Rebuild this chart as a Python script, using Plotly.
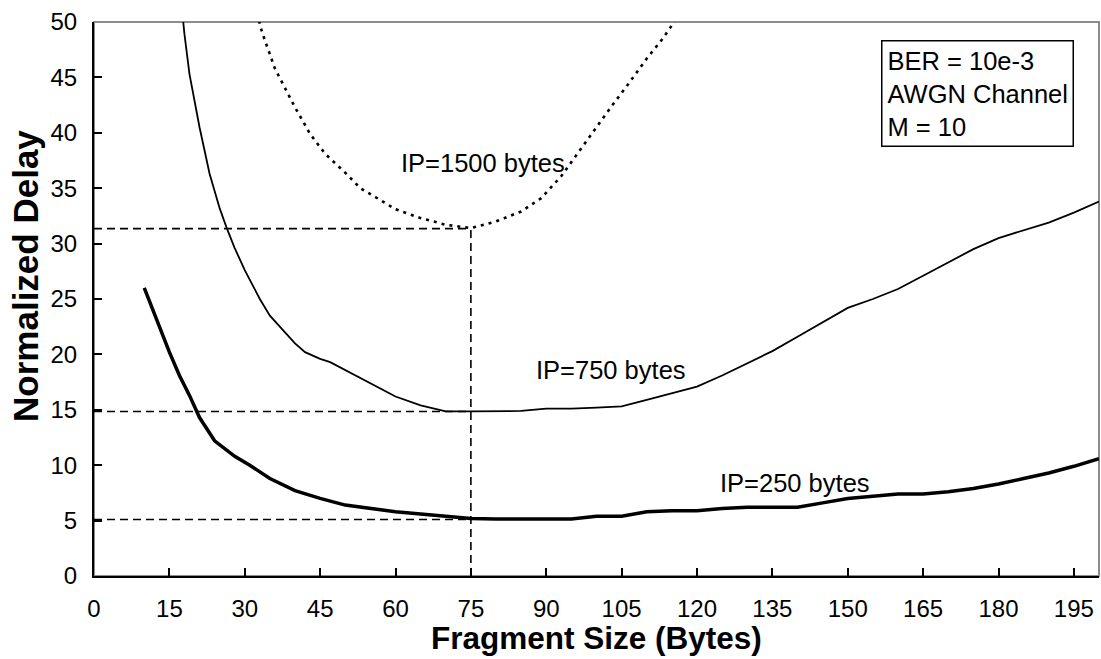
import plotly.graph_objects as go

# ---- data ----
x_250 = [10, 13, 15, 17, 19, 21, 24, 28, 31, 35, 40, 45, 50, 60, 70, 75, 80, 85, 90, 95,
         100, 105, 110, 115, 120, 125, 130, 135, 140, 145, 150, 155, 160, 165, 170, 175,
         180, 185, 190, 195, 200]
y_250 = [26.0, 22.5, 20.2, 18.1, 16.3, 14.3, 12.2, 10.8, 10.0, 8.8, 7.7, 7.0, 6.4, 5.8, 5.35,
         5.2, 5.15, 5.15, 5.15, 5.15, 5.4, 5.4, 5.8, 5.9, 5.9, 6.1, 6.2, 6.2, 6.2, 6.6, 7.0,
         7.2, 7.4, 7.4, 7.6, 7.9, 8.3, 8.8, 9.3, 9.9, 10.6]

x_750 = [17, 18, 19, 21, 23, 25, 26.5, 28, 30, 33, 35, 38, 40, 42, 45, 47, 50, 55, 60, 65,
         70, 75, 80, 85, 90, 95, 100, 105, 110, 115, 120, 125, 130, 135, 140, 145, 150,
         155, 160, 165, 170, 175, 180, 185, 190, 195, 200]
y_750 = [53.5, 48.9, 45.3, 40.5, 36.3, 33.2, 31.3, 29.6, 27.6, 25.0, 23.5, 22.0, 21.0, 20.2,
         19.6, 19.3, 18.6, 17.4, 16.2, 15.4, 14.85, 14.85, 14.85, 14.9, 15.1, 15.1, 15.2,
         15.3, 15.9, 16.5, 17.1, 18.1, 19.2, 20.3, 21.6, 22.9, 24.2, 25.0, 25.9, 27.1, 28.3,
         29.5, 30.5, 31.2, 31.9, 32.8, 33.8]

x_1500 = [32, 33.5, 36, 40, 43, 46, 50, 53, 56, 60, 65, 70, 75, 80, 85, 89, 93, 96, 100,
          103, 106, 110, 113, 117]
y_1500 = [51.5, 49.0, 45.8, 42.3, 39.9, 38.1, 36.4, 35.0, 34.2, 33.1, 32.3, 31.7, 31.4, 32.0,
          32.9, 34.1, 36.1, 38.0, 40.6, 42.4, 44.2, 46.7, 48.4, 51.0]

# optimum fragment size and the minimum delays marked with dashed guides
opt_x = 75
opt_y = [5.1, 14.85, 31.35]

x_ticks = list(range(0, 200, 15))
y_ticks = list(range(0, 51, 5))

labels = ["IP=250 bytes", "IP=750 bytes", "IP=1500 bytes"]
label_pos = [(139.6, 8.35), (102.8, 18.6), (77.4, 37.3)]
info_text = "BER = 10e-3<br>AWGN Channel<br>M = 10"

FONT = "Liberation Sans, Arial, sans-serif"

fig = go.Figure()

# dashed guide lines
for yv in opt_y:
    fig.add_trace(go.Scatter(x=[0, opt_x], y=[yv, yv], mode="lines",
                             line=dict(color="black", width=1.6, dash="8px,5px"),
                             showlegend=False, hoverinfo="skip"))
fig.add_trace(go.Scatter(x=[opt_x, opt_x], y=[0, max(opt_y)], mode="lines",
                         line=dict(color="black", width=1.6, dash="8px,5px"),
                         showlegend=False, hoverinfo="skip"))

fig.add_trace(go.Scatter(x=x_250, y=y_250, mode="lines", name=labels[0],
                         line=dict(color="black", width=3.5), showlegend=False))
fig.add_trace(go.Scatter(x=x_750, y=y_750, mode="lines", name=labels[1],
                         line=dict(color="black", width=1.8), showlegend=False))
fig.add_trace(go.Scatter(x=x_1500, y=y_1500, mode="lines", name=labels[2],
                         line=dict(color="black", width=2.6, dash="3px,5px"),
                         showlegend=False))

for txt, (lx, ly) in zip(labels, label_pos):
    fig.add_annotation(x=lx, y=ly, text=txt, showarrow=False,
                       font=dict(family=FONT, size=25.5, color="black"))

fig.add_annotation(xref="paper", yref="paper", x=0.7835, y=0.9675,
                   xanchor="left", yanchor="top", align="left",
                   text=info_text, showarrow=False,
                   font=dict(family=FONT, size=25.5, color="black"),
                   bordercolor="black", borderwidth=1.5, borderpad=5,
                   bgcolor="white")

# axis titles
fig.add_annotation(xref="paper", yref="paper", x=0.5, y=-0.112, yanchor="middle",
                   text="<b>Fragment Size (Bytes)</b>", showarrow=False,
                   font=dict(family=FONT, size=31.5, color="black"))
fig.add_annotation(xref="paper", yref="paper", x=-0.068, y=0.541, xanchor="center",
                   yanchor="middle", textangle=-90,
                   text="<b>Normalized Delay</b>", showarrow=False,
                   font=dict(family=FONT, size=35, color="black"))

# plot border (grey) - left/bottom axis lines drawn over it
fig.add_shape(type="rect", xref="paper", yref="paper", x0=0, y0=0, x1=1, y1=1,
              line=dict(color="#8c8c8c", width=2), layer="below")

fig.update_layout(
    width=1101, height=659,
    margin=dict(l=94, r=2, t=22, b=83),
    paper_bgcolor="white", plot_bgcolor="white",
    font=dict(family=FONT, size=24, color="black"),
)
fig.update_xaxes(range=[0, 200], tickvals=x_ticks, ticks="inside", ticklen=8,
                 tickcolor="black", tickwidth=1.5, showgrid=False, zeroline=False,
                 showline=True, linecolor="black", linewidth=2,
                 tickfont=dict(size=24), ticklabelstandoff=10)
fig.update_yaxes(range=[0, 50], tickvals=y_ticks, ticks="inside", ticklen=8,
                 tickcolor="black", tickwidth=1.5, showgrid=False, zeroline=False,
                 showline=True, linecolor="black", linewidth=2,
                 tickfont=dict(size=24), ticklabelstandoff=10)

fig.write_html("out.html")
